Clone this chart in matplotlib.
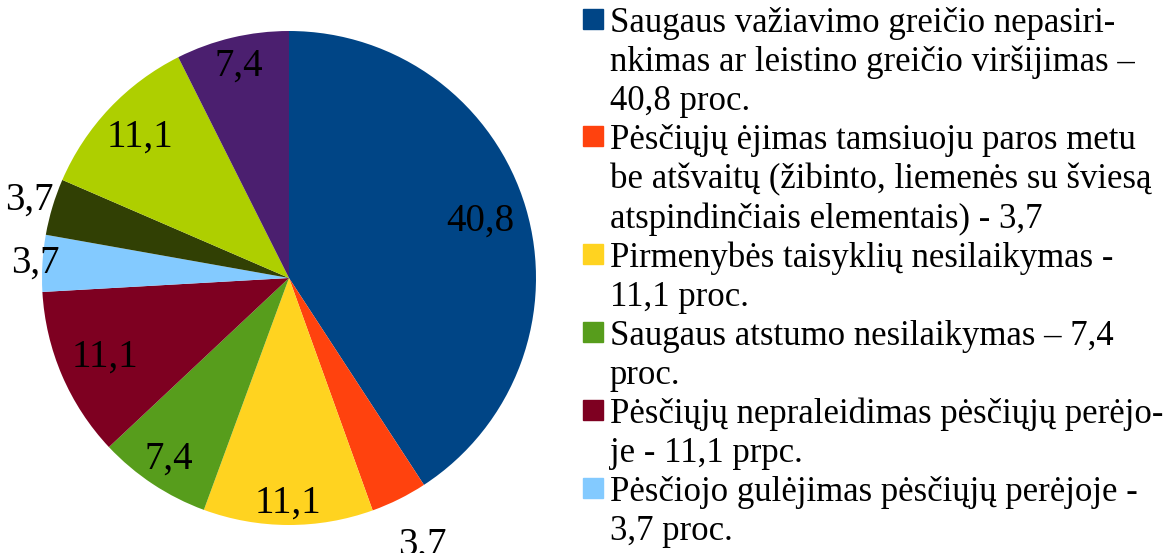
import numpy as np
import matplotlib.pyplot as plt
from matplotlib.patches import Rectangle

# --- Data ---
values = [40.8, 3.7, 11.1, 7.4, 11.1, 3.7, 3.7, 11.1, 7.4]
value_labels = [f"{v:.1f}".replace(".", ",") for v in values]
colors = ["#004586", "#FF420E", "#FFD320", "#579D1C", "#7E0021",
          "#83CAFF", "#314004", "#AECF00", "#4B1F6F"]
legend_labels = [
    "Saugaus važiavimo greičio nepasiri-\nnkimas ar leistino greičio viršijimas –\n40,8 proc.",
    "Pėsčiųjų ėjimas tamsiuoju paros metu\nbe atšvaitų (žibinto, liemenės su šviesą\natspindinčiais elementais) - 3,7",
    "Pirmenybės taisyklių nesilaikymas -\n11,1 proc.",
    "Saugaus atstumo nesilaikymas – 7,4\nproc.",
    "Pėsčiųjų nepraleidimas pėsčiųjų perėjo-\nje - 11,1 prpc.",
    "Pėsčiojo gulėjimas pėsčiųjų perėjoje -\n3,7 proc.",
]
# distance of each value label from the centre (in radii)
label_dist = [0.81, 1.21, 0.91, 0.88, 0.81, 1.03, 1.10, 0.83, 0.88]

plt.rcParams["font.family"] = ["Liberation Serif", "DejaVu Serif"]

W, H = 1167, 553
fig = plt.figure(figsize=(W / 100, H / 100), dpi=100)

# --- Pie ---
cx, cy, r = 289, 275, 247
ax = fig.add_axes([(cx - r) / W, (cy - r) / H, 2 * r / W, 2 * r / H])
wedges, _ = ax.pie(values, colors=colors, startangle=90, counterclock=False,
                   radius=1, wedgeprops=dict(linewidth=0))
ax.set_xlim(-1, 1)
ax.set_ylim(-1, 1)
ax.set_aspect("equal")
ax.axis("off")

for w, lab, d in zip(wedges, value_labels, label_dist):
    ang = np.deg2rad((w.theta1 + w.theta2) / 2)
    ax.text(d * np.cos(ang), d * np.sin(ang), lab, ha="center", va="center",
            fontsize=28, clip_on=False)

# --- Legend (drawn by hand, it runs off the bottom like the original) ---
line_h = 39.1
x_box, x_text = 583, 610
baseline = 32
for lab, col in zip(legend_labels, colors):
    fig.patches.append(Rectangle((x_box / W, 1 - (baseline - 3) / H), 20 / W, 20 / H,
                                 transform=fig.transFigure, color=col))
    for line in lab.split("\n"):
        fig.text(x_text / W, 1 - baseline / H, line, ha="left", va="baseline",
                 fontsize=25)
        baseline += line_h

fig.savefig("out.png", dpi=100)
